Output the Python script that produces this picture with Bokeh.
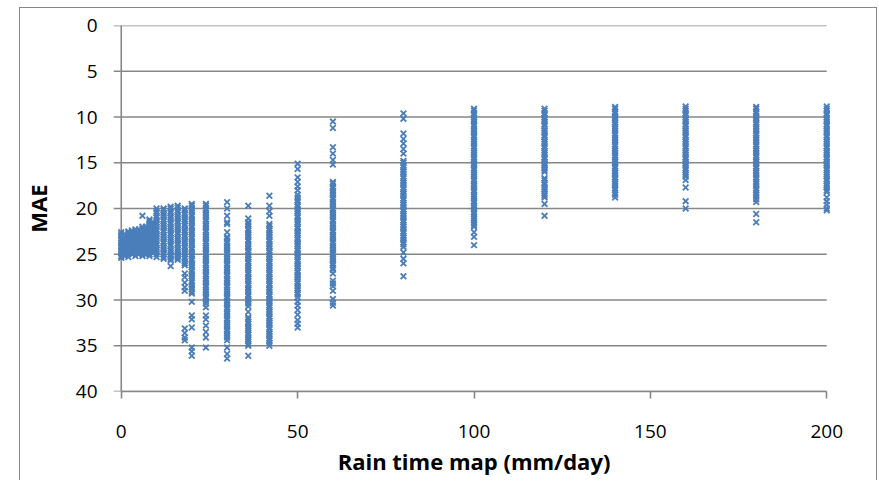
from bokeh.plotting import figure
from bokeh.models import Range1d, FixedTicker
from bokeh.embed import file_html
from bokeh.resources import INLINE

# ---- data (x = rain time map, values = MAE) ----
x_ticks = [0, 50, 100, 150, 200]
y_ticks = [0, 5, 10, 15, 20, 25, 30, 35, 40]

mae_0 = [22.6, 22.8, 23.0, 23.3, 23.5, 23.7, 24.0, 24.2, 24.3, 24.6, 24.9, 25.2, 25.4]
mae_1 = [22.8, 23.1, 23.3, 23.5, 23.8, 24.0, 24.2, 24.5, 24.8, 25.0, 25.2]
mae_2 = [22.5, 22.7, 22.9, 23.2, 23.4, 23.6, 23.9, 24.1, 24.3, 24.6, 24.8, 25.0, 25.3]
mae_3 = [22.4, 22.6, 22.8, 23.1, 23.3, 23.5, 23.8, 24.0, 24.2, 24.5, 24.8, 25.0]
mae_4 = [22.3, 22.5, 22.7, 23.0, 23.2, 23.4, 23.7, 23.9, 24.1, 24.4, 24.6, 24.8, 25.2]
mae_5 = [22.3, 22.6, 22.8, 23.0, 23.3, 23.5, 23.7, 24.0, 24.2, 24.4, 24.7, 25.0]
mae_6 = [20.8, 22.0, 22.2, 22.4, 22.7, 22.9, 23.1, 23.4, 23.6, 23.8, 24.1, 24.3,
         24.5, 24.8, 25.0, 25.2]
mae_7 = [22.0, 22.3, 22.5, 22.7, 23.0, 23.2, 23.4, 23.7, 23.9, 24.1, 24.4, 24.7, 25.0]
mae_8 = [21.2, 21.4, 21.6, 21.8, 22.0, 22.3, 22.5, 22.7, 23.0, 23.2, 23.4, 23.6,
         23.8, 24.1, 24.3, 24.5, 24.8, 25.0, 25.2]
mae_9 = [21.5, 21.7, 21.9, 22.2, 22.4, 22.6, 22.9, 23.1, 23.3, 23.6, 23.8, 24.0,
         24.2, 24.4, 24.6, 24.8]
mae_10 = [20.0, 20.3, 20.5, 20.8, 21.0, 21.3, 21.5, 21.7, 22.0, 22.3, 22.5, 22.8,
          23.0, 23.2, 23.5, 23.8, 24.0, 24.3, 24.5, 24.7, 25.0, 25.3]
mae_12 = [20.0, 20.2, 20.5, 20.7, 20.9, 21.2, 21.4, 21.7, 21.9, 22.1, 22.4, 22.6,
          22.9, 23.1, 23.3, 23.6, 23.8, 24.1, 24.3, 24.5, 24.8, 25.0, 25.3, 25.5]
mae_14 = [19.8, 20.0, 20.3, 20.5, 20.8, 21.0, 21.2, 21.5, 21.7, 22.0, 22.2, 22.4,
          22.7, 22.9, 23.2, 23.4, 23.6, 23.9, 24.1, 24.4, 24.6, 24.8, 25.1, 25.3,
          25.5, 25.7, 26.3]
mae_16 = [19.7, 19.9, 20.2, 20.4, 20.7, 20.9, 21.1, 21.4, 21.6, 21.9, 22.1, 22.3,
          22.6, 22.8, 23.1, 23.3, 23.5, 23.8, 24.0, 24.3, 24.5, 24.7, 25.0, 25.2,
          25.4, 25.6]
mae_18 = [20.0, 20.2, 20.5, 20.7, 21.0, 21.2, 21.4, 21.7, 21.9, 22.2, 22.4, 22.6,
          22.9, 23.1, 23.4, 23.6, 23.8, 24.1, 24.3, 24.6, 24.8, 25.0, 25.3, 25.5,
          25.8, 26.0, 26.2, 27.1, 27.5, 28.1, 28.6, 29.0, 33.1, 33.6, 34.1, 34.4]
mae_20 = [19.5, 19.7, 20.0, 20.2, 20.4, 20.7, 20.9, 21.2, 21.4, 21.6, 21.9, 22.1,
          22.4, 22.6, 22.8, 23.1, 23.3, 23.6, 23.8, 24.0, 24.3, 24.5, 24.8, 25.0,
          25.2, 25.5, 25.7, 26.0, 26.2, 26.4, 26.7, 26.9, 27.2, 27.4, 27.6, 27.9,
          28.1, 28.4, 28.6, 28.8, 29.1, 29.3, 30.2, 31.7, 32.1, 33.0, 35.2, 35.6,
          36.1]
mae_24 = [19.5, 19.7, 20.0, 20.2, 20.5, 20.7, 20.9, 21.2, 21.4, 21.7, 21.9, 22.1,
          22.4, 22.6, 22.9, 23.1, 23.3, 23.6, 23.8, 24.1, 24.3, 24.5, 24.8, 25.0,
          25.3, 25.5, 25.7, 26.0, 26.2, 26.5, 26.7, 26.9, 27.2, 27.4, 27.7, 27.9,
          28.1, 28.4, 28.6, 28.9, 29.1, 29.3, 29.6, 29.8, 30.1, 30.4, 30.8, 31.7,
          32.1, 32.8, 33.5, 34.1, 35.2]
mae_30 = [19.3, 20.0, 20.8, 21.5, 21.7, 22.6, 23.1, 23.3, 23.6, 23.8, 24.1, 24.3,
          24.5, 24.8, 25.0, 25.3, 25.5, 25.7, 26.0, 26.2, 26.5, 26.7, 26.9, 27.2,
          27.4, 27.7, 27.9, 28.1, 28.4, 28.6, 28.9, 29.1, 29.3, 29.6, 29.8, 30.1,
          30.3, 30.5, 30.8, 31.0, 31.3, 31.5, 31.7, 32.0, 32.2, 32.5, 32.7, 32.9,
          33.2, 33.4, 33.7, 33.9, 34.1, 34.4, 35.2, 35.9, 36.4]
mae_36 = [19.7, 21.1, 21.5, 21.7, 21.9, 22.2, 22.4, 22.7, 22.9, 23.1, 23.4, 23.6,
          23.9, 24.1, 24.3, 24.6, 24.8, 25.1, 25.3, 25.5, 25.8, 26.0, 26.3, 26.5,
          26.7, 27.0, 27.2, 27.5, 27.7, 27.9, 28.2, 28.4, 28.7, 28.9, 29.1, 29.4,
          29.6, 29.9, 30.1, 30.4, 30.7, 31.3, 31.9, 32.1, 32.4, 32.6, 32.9, 33.1,
          33.3, 33.6, 33.8, 34.1, 34.3, 34.5, 34.8, 35.0, 36.1]
mae_42 = [18.6, 19.7, 20.3, 20.8, 21.7, 21.9, 22.2, 22.4, 22.7, 22.9, 23.1, 23.4,
          23.6, 23.9, 24.1, 24.3, 24.6, 24.8, 25.1, 25.3, 25.5, 25.8, 26.0, 26.3,
          26.5, 26.7, 27.0, 27.2, 27.5, 27.7, 27.9, 28.2, 28.4, 28.7, 28.9, 29.1,
          29.4, 29.6, 29.9, 30.1, 30.3, 30.6, 30.8, 31.1, 31.3, 31.5, 31.8, 32.0,
          32.3, 32.5, 32.7, 33.0, 33.2, 33.5, 33.7, 33.9, 34.2, 34.4, 34.7, 35.0]
mae_50 = [15.1, 15.7, 16.6, 17.1, 17.6, 18.0, 18.5, 18.8, 19.1, 19.3, 19.6, 19.8,
          20.1, 20.3, 20.5, 20.8, 21.0, 21.3, 21.5, 21.7, 22.0, 22.2, 22.5, 22.7,
          22.9, 23.2, 23.4, 23.7, 23.9, 24.1, 24.4, 24.6, 24.9, 25.1, 25.3, 25.6,
          25.8, 26.1, 26.3, 26.5, 26.8, 27.0, 27.3, 27.5, 27.7, 28.0, 28.2, 28.5,
          28.7, 28.9, 29.2, 29.4, 29.7, 30.2, 30.6, 31.1, 31.6, 32.2, 32.6, 33.0]
mae_60 = [10.5, 11.2, 13.3, 14.0, 14.7, 15.2, 17.1, 17.3, 17.6, 17.8, 18.1, 18.3,
          18.5, 18.8, 19.0, 19.3, 19.5, 19.7, 20.0, 20.2, 20.5, 20.7, 20.9, 21.2,
          21.4, 21.7, 21.9, 22.1, 22.4, 22.6, 22.9, 23.1, 23.3, 23.6, 23.8, 24.1,
          24.3, 24.5, 24.8, 25.0, 25.3, 25.5, 25.7, 26.0, 26.2, 26.5, 26.7, 27.1,
          27.9, 28.2, 28.5, 29.0, 29.9, 30.3, 30.6]
mae_80 = [9.6, 10.2, 11.8, 12.4, 12.9, 13.5, 14.0, 14.8, 15.0, 15.3, 15.5, 15.8,
          16.0, 16.2, 16.5, 16.7, 17.0, 17.2, 17.4, 17.7, 17.9, 18.2, 18.4, 18.6,
          18.9, 19.1, 19.4, 19.6, 19.8, 20.1, 20.3, 20.6, 20.8, 21.0, 21.3, 21.5,
          21.8, 22.0, 22.2, 22.5, 22.7, 23.0, 23.2, 23.4, 23.7, 23.9, 24.2, 24.8,
          25.5, 26.0, 27.4]
mae_100 = [9.1, 9.3, 9.6, 9.8, 10.1, 10.3, 10.5, 10.8, 11.0, 11.3, 11.5, 11.7,
           12.0, 12.2, 12.5, 12.7, 12.9, 13.2, 13.4, 13.7, 13.9, 14.1, 14.4, 14.6,
           14.9, 15.1, 15.3, 15.6, 15.8, 16.1, 16.3, 16.5, 16.8, 17.0, 17.3, 17.5,
           17.7, 18.0, 18.2, 18.5, 18.7, 18.9, 19.2, 19.4, 19.7, 19.9, 20.1, 20.4,
           20.6, 20.9, 21.1, 21.3, 21.6, 21.8, 22.0, 22.6, 23.1, 24.0]
mae_120 = [9.1, 9.3, 9.6, 9.8, 10.1, 10.3, 10.5, 10.8, 11.0, 11.3, 11.5, 11.7,
           12.0, 12.2, 12.5, 12.7, 12.9, 13.2, 13.4, 13.7, 13.9, 14.1, 14.4, 14.6,
           14.9, 15.1, 15.3, 15.6, 15.8, 16.0, 16.7, 16.9, 17.2, 17.4, 17.7, 17.9,
           18.1, 18.4, 18.6, 18.8, 19.5, 20.8]
mae_140 = [8.9, 9.1, 9.4, 9.6, 9.9, 10.1, 10.3, 10.6, 10.8, 11.1, 11.3, 11.5,
           11.8, 12.0, 12.3, 12.5, 12.7, 13.0, 13.2, 13.5, 13.7, 13.9, 14.2, 14.4,
           14.7, 14.9, 15.1, 15.4, 15.6, 15.9, 16.1, 16.3, 16.6, 16.8, 17.1, 17.3,
           17.5, 17.8, 18.0, 18.3, 18.5, 18.8]
mae_160 = [8.85, 9.1, 9.3, 9.6, 9.8, 10.1, 10.3, 10.5, 10.8, 11.0, 11.3, 11.5,
           11.7, 12.0, 12.2, 12.5, 12.7, 12.9, 13.2, 13.4, 13.7, 13.9, 14.1, 14.4,
           14.6, 14.9, 15.1, 15.3, 15.6, 15.8, 16.1, 16.3, 16.5, 16.9, 17.7, 19.2,
           20.0]
mae_180 = [8.9, 9.1, 9.4, 9.6, 9.9, 10.1, 10.3, 10.6, 10.8, 11.1, 11.3, 11.5,
           11.8, 12.0, 12.3, 12.5, 12.7, 13.0, 13.2, 13.5, 13.7, 13.9, 14.2, 14.4,
           14.7, 14.9, 15.1, 15.4, 15.6, 15.9, 16.1, 16.3, 16.6, 16.8, 17.1, 17.3,
           17.5, 17.8, 18.0, 18.3, 18.5, 18.7, 19.0, 19.3, 20.6, 21.5]
mae_200 = [8.85, 9.1, 9.3, 9.6, 9.8, 10.1, 10.3, 10.5, 10.8, 11.0, 11.3, 11.5,
           11.7, 12.0, 12.2, 12.5, 12.7, 12.9, 13.2, 13.4, 13.7, 13.9, 14.1, 14.4,
           14.6, 14.9, 15.1, 15.3, 15.6, 15.8, 16.1, 16.3, 16.5, 16.8, 17.0, 17.3,
           17.5, 17.7, 18.0, 18.2, 18.8, 19.2, 19.6, 20.0, 20.2]

rain_values = [0, 1, 2, 3, 4, 5, 6, 7, 8, 9, 10, 12, 14, 16, 18, 20, 24, 30, 36,
               42, 50, 60, 80, 100, 120, 140, 160, 180, 200]
mae_columns = [mae_0, mae_1, mae_2, mae_3, mae_4, mae_5, mae_6, mae_7, mae_8,
               mae_9, mae_10, mae_12, mae_14, mae_16, mae_18, mae_20, mae_24,
               mae_30, mae_36, mae_42, mae_50, mae_60, mae_80, mae_100, mae_120,
               mae_140, mae_160, mae_180, mae_200]

xs, ys = [], []
for rv, col in zip(rain_values, mae_columns):
    for m in col:
        xs.append(rv)
        ys.append(m)

GRID = "#878787"
BLUE = "#4A7EBB"
FONT = "Open Sans"
PAD = 2.2  # x-range padding (units) so edge markers are not clipped

p = figure(width=879, height=480, output_backend="svg", toolbar_location=None,
           x_range=Range1d(x_ticks[0] - PAD, x_ticks[-1] + PAD),
           y_range=Range1d(y_ticks[-1], y_ticks[0]),
           min_border_left=113, min_border_right=45,
           min_border_top=25, min_border_bottom=89)
p.outline_line_color = None
p.background_fill_color = "white"
p.border_fill_color = None

# outer chart-area frame drawn as a CSS background behind the transparent border
line = f"linear-gradient({GRID}, {GRID})"
p.styles = {
    "background-color": "white",
    "background-image": f"{line}, {line}, {line}",
    "background-position": "19px 7px, 876px 7px, 19px 7px",
    "background-size": "1px 100%, 1px 100%, 858px 1px",
    "background-repeat": "no-repeat",
}

p.xgrid.visible = False
p.ygrid.visible = False

# horizontal gridlines (their left stub forms the y-axis tick marks)
n = len(y_ticks)
p.segment(x0=[x_ticks[0] - PAD] * n, x1=[x_ticks[-1]] * n,
          y0=y_ticks, y1=y_ticks, line_color=GRID, line_width=1.6)
# vertical y-axis line at x = 0
p.segment(x0=[x_ticks[0]], x1=[x_ticks[0]], y0=[y_ticks[0]], y1=[y_ticks[-1]],
          line_color=GRID, line_width=1.6)

p.scatter(xs, ys, marker="x", size=8, line_color=BLUE, line_width=1.8)

for ax in (p.xaxis[0], p.yaxis[0]):
    ax.axis_line_color = GRID
    ax.axis_line_width = 1.6
    ax.major_tick_line_color = GRID
    ax.major_tick_line_width = 1.6
    ax.major_tick_out = 7
    ax.major_tick_in = 0
    ax.minor_tick_line_color = None
    ax.major_label_text_font = FONT
    ax.major_label_text_font_size = "19px"
    ax.major_label_text_color = "black"
    ax.axis_label_text_font = FONT
    ax.axis_label_text_font_size = "22px"
    ax.axis_label_text_font_style = "bold"
    ax.axis_label_text_color = "black"

p.xaxis.ticker = FixedTicker(ticks=x_ticks)
p.yaxis.ticker = FixedTicker(ticks=y_ticks)
p.xaxis.bounds = (x_ticks[0], x_ticks[-1])
p.yaxis.axis_line_color = None
p.yaxis.major_tick_line_color = None
p.yaxis.major_tick_out = 0
p.xaxis.major_label_standoff = 26
p.yaxis.major_label_standoff = 16
p.xaxis.axis_label = "Rain time map (mm/day)"
p.yaxis.axis_label = "MAE"
p.xaxis.axis_label_standoff = 5
p.yaxis.axis_label_standoff = 20

open("out.html", "w").write(file_html(p, INLINE))
